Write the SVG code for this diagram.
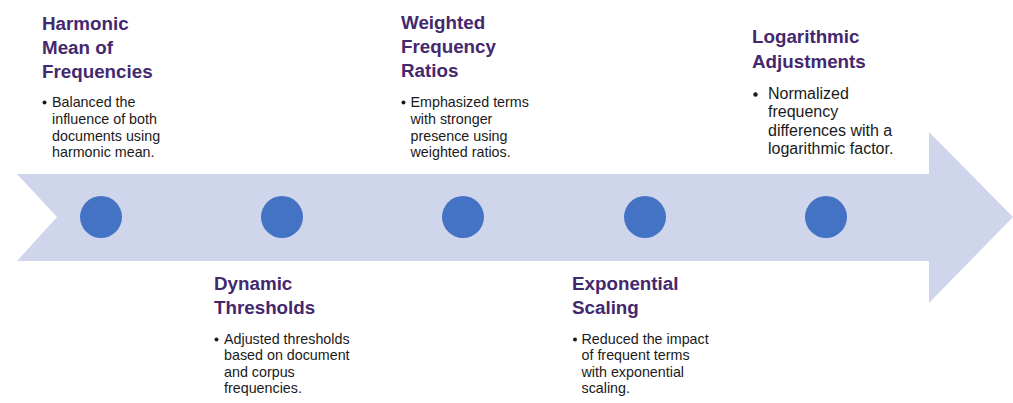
<svg xmlns="http://www.w3.org/2000/svg" width="1013" height="403" viewBox="0 0 1013 403">
  <style>
    .title { font-family: "Liberation Sans", Arial, sans-serif; font-weight: bold; font-size: 18.8px; fill: #44286E; }
    .body { font-family: "Liberation Sans", Arial, sans-serif; font-size: 14.3px; fill: #1a1a1a; }
    .body16 { font-family: "Liberation Sans", Arial, sans-serif; font-size: 16px; fill: #1a1a1a; }
    .dot { fill: #4472C4; }
    .bullet { fill: #1a1a1a; }
  </style>
  <rect width="1013" height="403" fill="#ffffff"/>
  <g id="connectors">
    <polygon points="17,174 929,174 929,132 1013,217 929,303 929,261 17,261 57,217" fill="#CFD5EA"/>
  </g>
  <g id="node-harmonic">
    <circle class="dot" cx="101" cy="217" r="21"/>
    <text class="title" x="42" y="29.5">Harmonic</text>
    <text class="title" x="42" y="54">Mean of</text>
    <text class="title" x="42" y="78">Frequencies</text>
    <circle class="bullet" cx="44.5" cy="102.5" r="2"/>
    <text class="body" x="52" y="106.5">Balanced the</text>
    <text class="body" x="52" y="123.5">influence of both</text>
    <text class="body" x="52" y="140.5">documents using</text>
    <text class="body" x="52" y="157">harmonic mean.</text>
  </g>
  <g id="node-dynamic">
    <circle class="dot" cx="282" cy="217" r="21"/>
    <text class="title" x="214" y="289.5">Dynamic</text>
    <text class="title" x="214" y="314">Thresholds</text>
    <circle class="bullet" cx="216.5" cy="339.5" r="2"/>
    <text class="body" x="224" y="343.5">Adjusted thresholds</text>
    <text class="body" x="224" y="360">based on document</text>
    <text class="body" x="224" y="376.7">and corpus</text>
    <text class="body" x="224" y="393">frequencies.</text>
  </g>
  <g id="node-weighted">
    <circle class="dot" cx="463" cy="217" r="21"/>
    <text class="title" x="401" y="28.5">Weighted</text>
    <text class="title" x="401" y="52.7">Frequency</text>
    <text class="title" x="401" y="76.7">Ratios</text>
    <circle class="bullet" cx="403.5" cy="102.5" r="2"/>
    <text class="body" x="410.5" y="106.5">Emphasized terms</text>
    <text class="body" x="410.5" y="124">with stronger</text>
    <text class="body" x="410.5" y="140.5">presence using</text>
    <text class="body" x="410.5" y="157">weighted ratios.</text>
  </g>
  <g id="node-exponential">
    <circle class="dot" cx="645" cy="217" r="21"/>
    <text class="title" x="572" y="289.5">Exponential</text>
    <text class="title" x="572" y="314">Scaling</text>
    <circle class="bullet" cx="575" cy="339.5" r="2"/>
    <text class="body" x="581.5" y="343.5">Reduced the impact</text>
    <text class="body" x="581.5" y="360">of frequent terms</text>
    <text class="body" x="581.5" y="376.7">with exponential</text>
    <text class="body" x="581.5" y="393">scaling.</text>
  </g>
  <g id="node-logarithmic">
    <circle class="dot" cx="826" cy="217" r="21"/>
    <text class="title" x="752" y="43">Logarithmic</text>
    <text class="title" x="752" y="67.5">Adjustments</text>
    <circle class="bullet" cx="755.5" cy="94.5" r="2.2"/>
    <text class="body16" x="768" y="98.5">Normalized</text>
    <text class="body16" x="768" y="117">frequency</text>
    <text class="body16" x="768" y="135.5">differences with a</text>
    <text class="body16" x="768" y="154">logarithmic factor.</text>
  </g>
</svg>
